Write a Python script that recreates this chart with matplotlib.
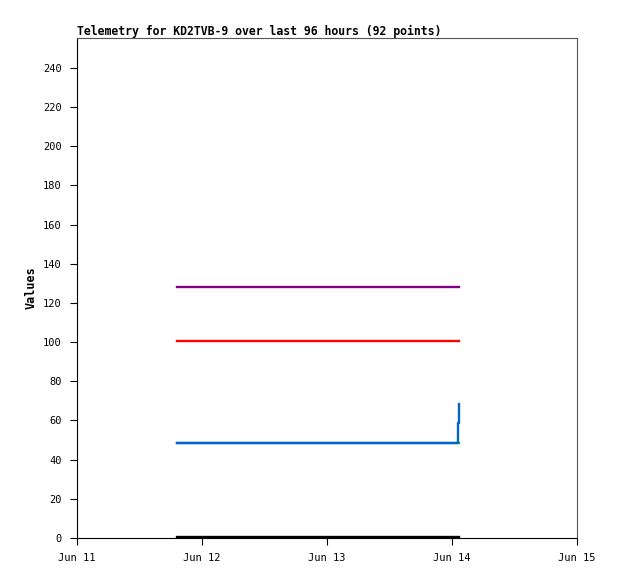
import numpy as np
import matplotlib
matplotlib.use('Agg')
import matplotlib.pyplot as plt
import matplotlib.dates as mdates
from datetime import datetime

# sample times (first point, a few near the end)
times = [datetime(2024, 6, 11, 19, 12), datetime(2024, 6, 14, 1, 0),
         datetime(2024, 6, 14, 1, 10), datetime(2024, 6, 14, 1, 25)]
ch_purple = [128, 128, 128, 128]
ch_red = [100.5, 100.5, 100.5, 100.5]
ch_blue = [48.5, 48.5, 58.5, 68.5]
ch_green = [48.5, 48.5, 48.5, 48.5]
ch_black = [0.5, 0.5, 0.5, 0.5]

x_ticks = [datetime(2024, 6, d) for d in range(11, 16)]
y_ticks = np.arange(0, 260, 20)


def main():
    mono = 'DejaVu Sans Mono'
    fig = plt.figure(figsize=(6.18, 5.79), dpi=100, facecolor='white')
    ax = fig.add_axes([77 / 618, 41 / 579, 500 / 618, 500 / 579])

    ax.step(times, ch_green, where='post', color='#22aa22', lw=1.7)
    ax.step(times, ch_blue, where='post', color='#0066cc', lw=1.7)
    ax.step(times, ch_red, where='post', color='red', lw=1.7)
    ax.step(times, ch_purple, where='post', color='#800080', lw=1.7)
    ax.step(times, ch_black, where='post', color='black', lw=1.7)

    ax.set_xlim(x_ticks[0], x_ticks[-1])
    ax.set_ylim(0, 255.3)
    ax.set_xticks(x_ticks)
    ax.xaxis.set_major_formatter(mdates.DateFormatter('%b %d'))
    ax.set_yticks(y_ticks)
    ax.tick_params(direction='out', length=5, width=0.8, labelsize=7.5)
    ax.tick_params(axis='x', pad=6)
    ax.tick_params(axis='y', pad=6)
    for lab in ax.get_xticklabels() + ax.get_yticklabels():
        lab.set_fontfamily(mono)

    ax.set_ylabel('Values', fontfamily=mono, fontweight='bold', fontsize=8.5)
    ax.set_title('Telemetry for KD2TVB-9 over last 96 hours (92 points)',
                 loc='left', fontfamily=mono, fontweight='bold', fontsize=8.3, pad=2)
    for s in ['top', 'right']:
        ax.spines[s].set_color('#555555')

    fig.savefig('out.png', dpi=100)


if __name__ == '__main__':
    main()
